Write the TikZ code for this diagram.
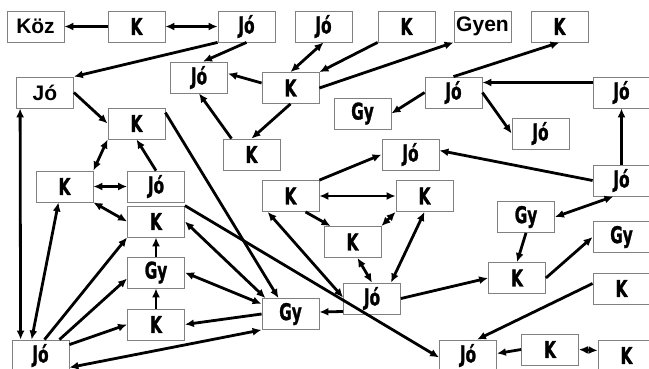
\documentclass[tikz,border=0pt]{standalone}
\usepackage{fontspec}
\setmainfont{Liberation Sans}
\newfontfamily\impactfont[FakeStretch=0.74,FakeBold=1.2]{DejaVu Sans Condensed}
\usetikzlibrary{arrows.meta}

\begin{document}
\begin{tikzpicture}[x=1pt,y=-1pt]
\tikzstyle{box}=[draw=gray,line width=0.8pt,fill=white,minimum width=57pt,minimum height=31pt,inner sep=0pt,font=\fontsize{23}{23}\selectfont\impactfont\bfseries]
\tikzstyle{plain box}=[box,font=\fontsize{21}{21}\selectfont\bfseries]
\tikzstyle{link}=[line width=2.8pt,-{Latex[length=9pt,width=8pt]}]
\tikzstyle{both}=[line width=2.8pt,{Latex[length=9pt,width=8pt]}-{Latex[length=9pt,width=8pt]}]

\useasboundingbox (0,0) rectangle (649,368);
\clip (0,0) rectangle (649,368);

% top row
\node(koz)[plain box] at (35.5,26.5) {Köz};
\node(k1)[box] at (136.5,26.5) {K};
\node(jo1)[box] at (246.5,26.5) {Jó};
\node(jo2)[box] at (323.5,26.5) {Jó};
\node(k2)[box] at (406.5,26.5) {K};
\node(gyen)[plain box] at (482.5,26.5) {Gyen};
\node(k3)[box] at (559.5,26.5) {K};

% upper part
\node(joL)[plain box] at (45,92.5) {Jó};
\node(jo3)[box] at (199,77.5) {Jó};
\node(k4)[box] at (290.5,88) {K};
\node(gy1)[box] at (362.5,113.5) {Gy};
\node(jo4)[box] at (453.5,92.5) {Jó};
\node(joR)[box] at (621.5,92.5) {Jó};
\node(k5)[box] at (136.5,123.5) {K};
\node(jo5)[box] at (540.5,133.5) {Jó};
\node(k6)[box] at (251.5,154.5) {K};
\node(jo6)[box] at (410.5,154.5) {Jó};

% middle part
\node(k7)[box] at (64.5,186.5) {K};
\node(jo7)[box] at (156,186.5) {Jó};
\node(k8)[box] at (290.5,196) {K};
\node(k9)[box] at (424.5,196) {K};
\node(joR2)[box] at (621.5,180.5) {Jó};
\node(k10)[box] at (156,221.5) {K};
\node(gy2)[box] at (526,217) {Gy};
\node(k11)[box] at (352.5,242) {K};
\node(gyR)[box] at (621.5,237) {Gy};
\node(gy3)[box] at (156,272.5) {Gy};
\node(k12)[box] at (517,278) {K};
\node(kR)[box] at (621.5,288.5) {K};

% lower part
\node(jo8)[box] at (372,298.5) {Jó};
\node(gy4)[box] at (290.5,314) {Gy};
\node(k13)[box] at (156,324.5) {K};
\node(joBL)[box] at (40.5,355.5) {Jó};
\node(joB)[box] at (468,355.5) {Jó};
\node(kB)[box] at (550,349.5) {K};
\node(kBR)[box] at (626.5,355.5) {K};

% connectors of the top row
\draw[link] (k1.west) -- (koz.east);
\draw[both] (k1.east) -- (jo1.west);
\draw[link] (jo1.south west) -- (joL.north east);
\draw[link] (jo1.south) -- ([xshift=4pt]jo3.north);
\draw[both] (jo2.south) -- (k4.north);
\draw[link] (k2.south west) -- (k4.north east);
\draw[link] (k4.east) -- (gyen.south west);
\draw[link] ([yshift=5pt]k4.west) -- ([yshift=4pt]jo3.east);
\draw[link] (k4.south) -- (k6.north);
\draw[link] ([xshift=-20pt]k6.north) -- (jo3.south);

% left cluster
\draw[link] (joL.east) -- (k5.west);
\draw[both] (k5.south west) -- (k7.north east);
\draw[link] (jo7.north) -- (k5.south);
\draw[link] ([yshift=-5pt]k5.north east) -- ([xshift=-12pt]gy4.north);
\draw[both] (k7.east) -- (jo7.west);
\draw[both] (k7.south east) -- (k10.west);
\draw[both] ([xshift=4pt]joL.south west) -- ([xshift=9pt]joBL.north west);
\draw[both] ([xshift=20pt]joBL.north west) -- ([xshift=-6pt]k7.south);
\draw[link] ([xshift=4pt]joBL.north) -- (k10.south west);
\draw[link] ([xshift=-10pt]joBL.north east) -- ([yshift=-6pt]gy3.west);
\draw[link] ([yshift=-5pt]joBL.north east) -- (k13.west);
\draw[both] (gy4.south west) -- ([yshift=-12pt]joBL.east);
\draw[link] (k13.north) -- (gy3.south);
\draw[link] (gy3.north) -- (k10.south);
\draw[link] (gy4.west) -- (k13.east);
\draw[both] (gy3.east) -- ([yshift=10pt]gy4.west);
\draw[both] (k10.east) -- ([xshift=-25pt]gy4.north);
\draw[link] (k10.north east) -- ([yshift=-2pt]joB.west);

% middle cluster
\draw[link] ([yshift=-13pt]jo8.west) -- ([yshift=2pt]gy4.east);
\draw[both] ([xshift=6pt]k8.south west) -- ([yshift=1pt]jo8.west);
\draw[link] (k8.north east) -- (jo6.west);
\draw[both] (k8.east) -- (k9.west);
\draw[link] ([xshift=15pt]k8.south) -- ([xshift=7pt]k11.north west);
\draw[both] (k11.north east) -- (k9.south west);
\draw[both] ([xshift=5pt]k11.south) -- (jo8.north);
\draw[both] ([xshift=19pt]jo8.north) -- (k9.south);
\draw[link] (jo8.east) -- (k12.west);

% right cluster
\draw[link] (joR2.west) -- ([yshift=4pt]jo6.east);
\draw[link] (joR2.north) -- (joR.south);
\draw[link] ([yshift=10pt]joR.west) -- ([yshift=10pt]jo4.east);
\draw[link] (jo4.north) -- (k3.south);
\draw[link] (jo4.west) -- (gy1.east);
\draw[link] (jo4.east) -- (jo5.west);
\draw[both] ([xshift=-8pt]joR2.south) -- (gy2.east);
\draw[link] (gy2.south) -- (k12.north);
\draw[link] (k12.east) -- (gyR.west);
\draw[link] ([yshift=5pt]kR.west) -- ([xshift=9pt]joB.north);
\draw[link] (kB.west) -- ([yshift=2pt]joB.east);
\draw[both] (kB.east) -- ([yshift=5pt]kBR.west);

\end{tikzpicture}
\end{document}
